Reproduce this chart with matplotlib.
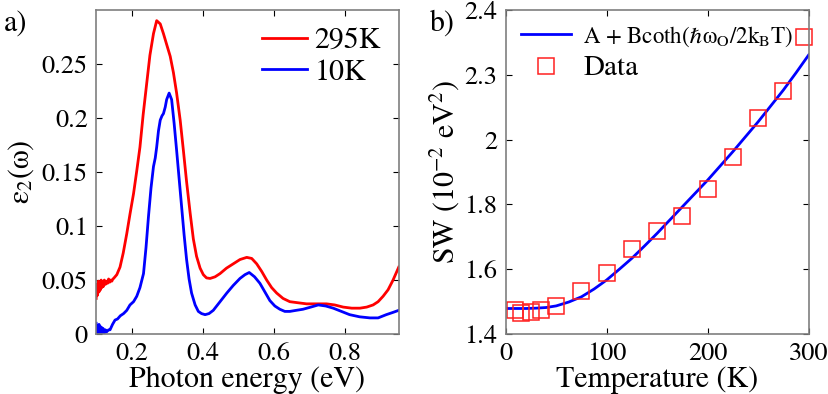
import numpy as np
import matplotlib
matplotlib.use('Agg')
import matplotlib.pyplot as plt

plt.rcParams['font.family'] = ['STIXGeneral', 'DejaVu Serif']
plt.rcParams['mathtext.fontset'] = 'stix'

# panel a) eps2 spectra
e_red = [0.100, 0.102, 0.104, 0.106, 0.108, 0.110, 0.112, 0.114, 0.116, 0.118,
         0.120, 0.123, 0.126, 0.129, 0.132, 0.135, 0.138, 0.141, 0.144, 0.147,
         0.149, 0.158, 0.167, 0.176, 0.186, 0.195, 0.205, 0.214, 0.223, 0.232,
         0.242, 0.251, 0.261, 0.270, 0.280, 0.289, 0.298, 0.308, 0.317, 0.326,
         0.336, 0.345, 0.354, 0.364, 0.373, 0.382, 0.392, 0.401, 0.410, 0.420,
         0.434, 0.448, 0.466, 0.485, 0.504, 0.523, 0.537, 0.551, 0.565, 0.579,
         0.593, 0.607, 0.625, 0.644, 0.667, 0.691, 0.719, 0.747, 0.770, 0.794,
         0.818, 0.841, 0.860, 0.878, 0.892, 0.906, 0.920, 0.934, 0.942, 0.950]
eps_red = [0.033, 0.046, 0.036, 0.049, 0.039, 0.047, 0.041, 0.050, 0.043, 0.048,
           0.044, 0.050, 0.046, 0.049, 0.047, 0.051, 0.048, 0.050, 0.049, 0.051,
           0.0515, 0.055, 0.062, 0.075, 0.093, 0.111, 0.130, 0.151, 0.173, 0.203,
           0.232, 0.258, 0.278, 0.290, 0.287, 0.278, 0.268, 0.257, 0.242, 0.223,
           0.198, 0.170, 0.141, 0.112, 0.088, 0.072, 0.061, 0.055, 0.052, 0.0515,
           0.053, 0.056, 0.061, 0.065, 0.069, 0.071, 0.070, 0.065, 0.058, 0.050,
           0.043, 0.038, 0.033, 0.030, 0.029, 0.028, 0.028, 0.028, 0.027, 0.025,
           0.024, 0.024, 0.025, 0.027, 0.030, 0.035, 0.041, 0.050, 0.056, 0.062]

e_blue = [0.100, 0.102, 0.104, 0.106, 0.108, 0.110, 0.112, 0.114, 0.116, 0.118,
          0.120, 0.123, 0.126, 0.129, 0.132, 0.135, 0.139, 0.146, 0.153, 0.160,
          0.168, 0.177, 0.186, 0.195, 0.205, 0.214, 0.223, 0.233, 0.240, 0.247,
          0.254, 0.261, 0.266, 0.270, 0.275, 0.280, 0.285, 0.289, 0.294, 0.298,
          0.305, 0.312, 0.319, 0.326, 0.333, 0.340, 0.347, 0.354, 0.361, 0.368,
          0.378, 0.387, 0.396, 0.406, 0.417, 0.429, 0.448, 0.467, 0.485, 0.504,
          0.518, 0.530, 0.545, 0.560, 0.574, 0.588, 0.602, 0.616, 0.630, 0.644,
          0.662, 0.681, 0.703, 0.724, 0.745, 0.766, 0.789, 0.812, 0.840, 0.869,
          0.892, 0.915, 0.933, 0.950]
eps_blue = [0.010, 0.002, 0.008, 0.001, 0.009, 0.003, 0.007, 0.000, 0.006, 0.002,
            0.005, 0.001, 0.004, 0.002, 0.003, 0.004, 0.004, 0.009, 0.013, 0.014,
            0.017, 0.019, 0.022, 0.027, 0.030, 0.035, 0.043, 0.056, 0.080, 0.109,
            0.135, 0.155, 0.163, 0.173, 0.188, 0.198, 0.202, 0.204, 0.210, 0.217,
            0.223, 0.217, 0.195, 0.170, 0.144, 0.118, 0.092, 0.069, 0.051, 0.038,
            0.027, 0.021, 0.019, 0.018, 0.019, 0.022, 0.030, 0.038, 0.045, 0.0515,
            0.055, 0.057, 0.053, 0.047, 0.039, 0.031, 0.026, 0.023, 0.021, 0.021,
            0.022, 0.023, 0.025, 0.027, 0.026, 0.024, 0.021, 0.018, 0.016, 0.015,
            0.015, 0.018, 0.020, 0.022]

# panel b) spectral weight vs temperature
T_data = [9, 15, 25, 35, 50, 75, 100, 125, 150, 175, 200, 225, 250, 275, 295]
sw_data = [1.474, 1.464, 1.469, 1.474, 1.486, 1.533, 1.588, 1.662, 1.718, 1.765,
           1.848, 1.947, 2.066, 2.151, 2.316]

T_fit = [0, 10, 20, 30, 40, 50, 62.5, 75, 87.5, 100, 112.5, 125, 137.5, 150,
         162.5, 175, 187.5, 200, 212.5, 225, 237.5, 250, 262.5, 275, 287.5, 300]
sw_fit = [1.479, 1.479, 1.479, 1.480, 1.482, 1.487, 1.499, 1.515, 1.539, 1.567,
          1.600, 1.634, 1.672, 1.711, 1.752, 1.793, 1.834, 1.875, 1.919, 1.963,
          2.009, 2.055, 2.104, 2.153, 2.206, 2.261]

fs = 19
lfs = 21.5
fig = plt.figure(figsize=(8.29, 3.94), dpi=100)
ax1 = fig.add_axes([0.116, 0.152, 0.365, 0.823])
ax2 = fig.add_axes([0.610, 0.152, 0.3655, 0.823])

for ax in (ax1, ax2):
    ax.tick_params(direction='in', top=True, right=True, labelsize=fs, length=4,
                   width=0.8, pad=6)
    for s in ax.spines.values():
        s.set_color('#7f7f7f')
        s.set_linewidth(1.2)

ax1.plot(e_red, eps_red, color='#ff0000', lw=2, label='295K')
ax1.plot(e_blue, eps_blue, color='#0000ff', lw=2, label='10K')
ax1.set_xlim(0.1, 0.95)
ax1.set_ylim(0, 0.3)
ax1.set_xticks([0.2, 0.4, 0.6, 0.8])
ax1.set_xticklabels(['0.2', '0.4', '0.6', '0.8'])
ax1.set_yticks([0, 0.05, 0.1, 0.15, 0.2, 0.25])
ax1.set_yticklabels(['0', '0.05', '0.1', '0.15', '0.2', '0.25'])
ax1.set_xlabel('Photon energy (eV)', fontsize=lfs, labelpad=0)
ax1.set_ylabel('ε$_2$(ω)', fontsize=lfs, labelpad=4)
ax1.legend(loc='upper right', frameon=False, fontsize=lfs, handlelength=1.5,
           handletextpad=0.25, borderaxespad=0.2, labelspacing=0.1)

ax2.plot(T_fit, sw_fit, color='#0000ff', lw=2,
         label='A + Bcoth(ℏω$_{\\rm O}$/2k$_{\\rm B}$T)')
ax2.plot(T_data, sw_data, 's', mfc='none', mec='#ff2020', ms=11.5, mew=1.1,
         label='Data', clip_on=False)
ax2.set_xlim(0, 300)
ax2.set_ylim(1.4, 2.4)
ax2.set_xticks([0, 100, 200, 300])
ax2.set_yticks([1.4, 1.6, 1.8, 2.0, 2.2, 2.4])
ax2.set_yticklabels(['1.4', '1.6', '1.8', '2', '2.3', '2.4'])
ax2.set_xlabel('Temperature (K)', fontsize=lfs, labelpad=0)
ax2.set_ylabel(r'SW (10$^{-2}$ eV$^2$)', fontsize=lfs, labelpad=2)
leg = ax2.legend(loc='upper left', frameon=False, fontsize=18, handlelength=2.0,
                 handletextpad=0.5, borderaxespad=0.2, labelspacing=0.25)
leg.get_texts()[0].set_fontsize(16.5)
leg.get_texts()[1].set_fontsize(21)

fig.text(0.005, 0.975, 'a)', fontsize=lfs, va='top', ha='left')
fig.text(0.519, 0.975, 'b)', fontsize=lfs, va='top', ha='left')

fig.savefig('out.png', dpi=100)
